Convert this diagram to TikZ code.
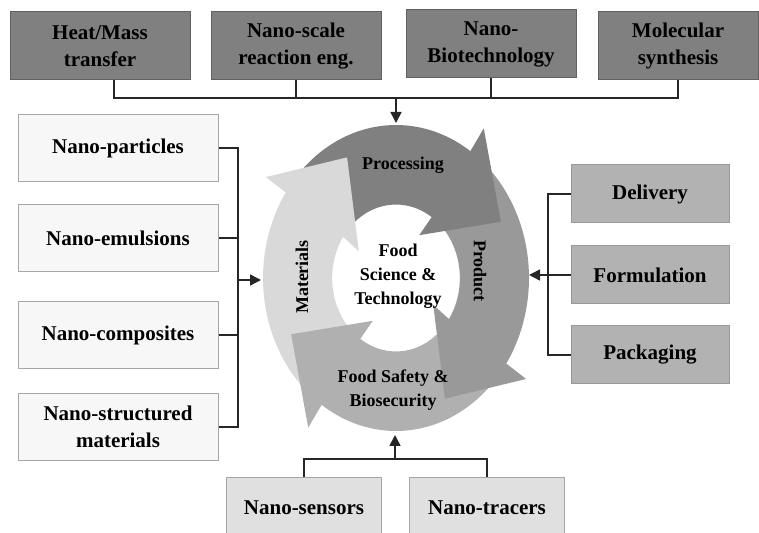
\documentclass[tikz,border=0pt]{standalone}
\usepackage{fontspec}
\setmainfont{Liberation Serif}[BoldFont={Liberation Serif Bold}]
\usetikzlibrary{arrows.meta}

\definecolor{procgray}{gray}{0.50}
\definecolor{prodgray}{gray}{0.60}
\definecolor{safegray}{gray}{0.69}
\definecolor{matgray}{gray}{0.85}

\begin{document}
\begin{tikzpicture}[x=1pt,y=1pt,
    nanobox/.style={line width=1pt, inner sep=0pt, align=center,
        font=\rmfamily\bfseries\fontsize{21}{27}\selectfont},
    topbox/.style={nanobox, draw=black!62, fill=black!50, minimum height=68pt},
    leftbox/.style={nanobox, draw=black!35, fill=black!3, minimum width=200pt, minimum height=67pt},
    rightbox/.style={nanobox, draw=black!40, fill=black!30, minimum width=158pt, minimum height=58pt},
    botbox/.style={nanobox, draw=black!35, fill=black!12, minimum width=155pt, minimum height=60pt},
    ringtext/.style={align=center, font=\rmfamily\bfseries\fontsize{18}{24}\selectfont},
    bus/.style={line width=1.6pt, black!85},
    feed/.style={bus, -{Triangle[length=11pt,width=11pt]}}]
\clip (0,0) rectangle (759,532);
    \def\ringin{0.48}

    % the cycle
    \begin{scope}[shift={(396,254)}, x=133pt, y=153pt]
    \foreach \base/\col in {56/procgray,-34/prodgray,-124/safegray,146/matgray}
        \fill[\col] plot[domain=\base+82:\base-3, samples=40] (\x:1)
              -- plot[domain=\base-3:\base+82, samples=40] (\x:\ringin) -- cycle;
    \foreach \base/\col in {56/procgray,-34/prodgray,-124/safegray,146/matgray}
        \fill[\col] (\base:1) -- (\base:1.18) -- (\base-31:0.87)
              -- (\base+2:0.33) -- (\base:\ringin) -- cycle;
    \end{scope}
    \node[ringtext] (proc) at (403,367) {Processing};
    \node[ringtext, rotate=-90] (prod) at (480,261) {Product};
    \node[ringtext, rotate=90] (mats) at (302,255) {Materials};
    \node[ringtext] (safety) at (393,142) {Food Safety \&\\Biosecurity};
    \node[ringtext] (core) at (398,256) {Food\\Science \&\\Technology};

    % top row
    \node[topbox, minimum width=180pt] (heat) at (100,486) {Heat/Mass\\transfer};
    \node[topbox, minimum width=170pt] (scale) at (296,486) {Nano-scale\\reaction eng.};
    \node[topbox, minimum width=170pt] (biotech) at (491,488) {Nano-\\Biotechnology};
    \node[topbox, minimum width=160pt] (molec) at (678,486) {Molecular\\synthesis};
    \coordinate (topbus) at (396,434);
    \coordinate (ringtop) at (396,409);
    \draw[bus] ([xshift=14pt]heat.south) |- (topbus) -| (molec.south);
    \draw[bus] (scale.south) -- (scale.south |- topbus);
    \draw[bus] (biotech.south) -- (biotech.south |- topbus);
    \draw[feed] (topbus) -- (ringtop);

    % left column
    \foreach \name/\y/\txt in {parts/384/Nano-particles, emuls/294/Nano-emulsions,
            comps/197/Nano-composites, struct/105/{Nano-structured\\materials}}
        \node[leftbox] (\name) at (118,\y) {\txt};
    \coordinate (leftbus) at (238,252);
    \coordinate (ringleft) at (261,252);
    \draw[bus] (parts.east) -| (struct.east -| leftbus) -- (struct.east);
    \draw[bus] (emuls.east) -- (emuls.east -| leftbus);
    \draw[bus] (comps.east) -- (comps.east -| leftbus);
    \draw[feed] (leftbus) -- (ringleft);

    % right column
    \foreach \name/\y/\txt in {deliv/338/Delivery, formul/257/Formulation, pack/177/Packaging}
        \node[rightbox] (\name) at (650,\y) {\txt};
    \coordinate (rightbus) at (548,257);
    \coordinate (ringright) at (529,257);
    \draw[bus] (deliv.west) -| (pack.west -| rightbus) -- (pack.west);
    \draw[bus] (formul.west) -- (rightbus);
    \draw[feed] (rightbus) -- (ringright);

    % bottom row
    \node[botbox] (sensors) at (304,24) {Nano-sensors};
    \node[botbox] (tracers) at (487,24) {Nano-tracers};
    \coordinate (botbus) at (395,73);
    \coordinate (ringbot) at (395,97);
    \draw[bus] (sensors.north) |- (botbus) -| (tracers.north);
    \draw[feed] (botbus) -- (ringbot);
\end{tikzpicture}
\end{document}
